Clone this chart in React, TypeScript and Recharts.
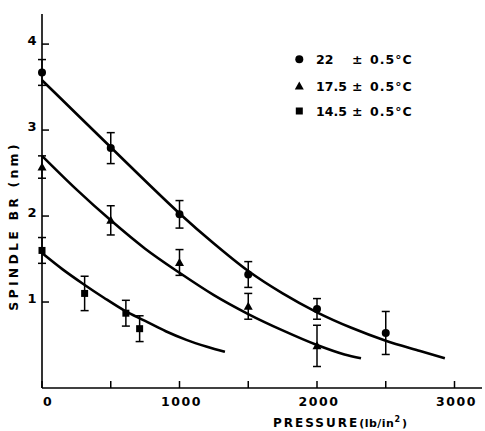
import React from 'react'
import { ComposedChart, Line, Scatter, XAxis, YAxis, ErrorBar, Legend } from 'recharts'

const FONT = '"DejaVu Sans", Verdana, sans-serif'

// fitted curves (pressure lb/in2 -> spindle BR nm)
const fit22P = [0, 250, 500, 750, 1000, 1250, 1500, 1750, 2000, 2250, 2500, 2750, 2930]
const fit22V = [3.58, 3.19, 2.8, 2.41, 2.03, 1.68, 1.36, 1.1, 0.88, 0.7, 0.55, 0.43, 0.345]
const fit17P = [0, 250, 500, 750, 1000, 1250, 1500, 1750, 2000, 2200, 2320]
const fit17V = [2.7, 2.31, 1.95, 1.62, 1.34, 1.08, 0.86, 0.67, 0.5, 0.39, 0.345]
const fit14P = [0, 150, 300, 450, 600, 750, 900, 1050, 1200, 1330]
const fit14V = [1.57, 1.38, 1.21, 1.05, 0.9, 0.78, 0.66, 0.56, 0.48, 0.42]

// measured points with error
const pts22P = [0, 500, 1000, 1500, 2000, 2500]
const pts22V = [3.67, 2.79, 2.02, 1.32, 0.92, 0.64]
const pts22E = [0.15, 0.18, 0.16, 0.15, 0.12, 0.25]
const pts17P = [0, 500, 1000, 1500, 2000]
const pts17V = [2.57, 1.95, 1.46, 0.95, 0.49]
const pts17E = [0.13, 0.17, 0.15, 0.15, 0.24]
const pts14P = [0, 310, 610, 710]
const pts14V = [1.6, 1.1, 0.87, 0.69]
const pts14E = [0.15, 0.2, 0.15, 0.15]

const xTicks = [0, 500, 1000, 1500, 2000, 2500, 3000]
const yTicks = [1, 2, 3, 4]
const legendTemps = ['22', '17.5', '14.5']
const legendTol = '± 0.5°C'

const rows = (p: number[], v: number[], e?: number[]) =>
  p.map((x, i) => ({ p: x, v: v[i], e: e ? e[i] : 0 }))

const Dot = ({ cx, cy }: any) => <circle cx={cx} cy={cy} r={4} fill="#000" />
const Tri = ({ cx, cy }: any) => (
  <polygon points={`${cx},${cy - 4.5} ${cx + 4.5},${cy + 3.5} ${cx - 4.5},${cy + 3.5}`} fill="#000" />
)
const Sq = ({ cx, cy }: any) => <rect x={cx - 3.5} y={cy - 3.5} width={7} height={7} fill="#000" />

const XTick = ({ x, y, payload }: any) => {
  const v = payload.value
  return (
    <g>
      <line x1={x} y1={y} x2={x} y2={y - 7} stroke="#000" strokeWidth={1.5} />
      {v % 1000 === 0 && (
        <text x={x + (v === 0 ? 6 : 2)} y={y + 17.5} textAnchor="middle" fontFamily={FONT}
          fontWeight="bold" fontSize={12.5} letterSpacing={1.5} fill="#000">{v}</text>
      )}
    </g>
  )
}

const YTick = ({ x, y, payload }: any) => (
  <g>
    <line x1={x} y1={y} x2={x + 7} y2={y} stroke="#000" strokeWidth={1.5} />
    <text x={x - 10} y={y + 0.5} textAnchor="middle" fontFamily={FONT}
      fontWeight="bold" fontSize={13} fill="#000">{payload.value}</text>
  </g>
)

const LegendBox = () => {
  const shapes = [<Dot cx={9.3} cy={14.3} />, <Tri cx={9.3} cy={41} />, <Sq cx={9.3} cy={66} />]
  const base = [19, 45.7, 71]
  return (
    <svg width={140} height={80}>
      {legendTemps.map((t, i) => (
        <g key={t}>
          {shapes[i]}
          <text x={26} y={base[i]} fontFamily={FONT} fontWeight="bold" fontSize={12.5} fill="#000">{t}</text>
          <text x={62} y={base[i]} fontFamily={FONT} fontWeight="bold" fontSize={12.5} letterSpacing={1} fill="#000">
            {legendTol.slice(0, 1)}
            <tspan x={80}>{legendTol.slice(2)}</tspan>
          </text>
        </g>
      ))}
    </svg>
  )
}

export default function App() {
  return (
    <div style={{ position: 'absolute', left: 0, top: 0, background: '#fff' }}>
      <ComposedChart width={485} height={431} margin={{ top: 14, right: 3, bottom: 0, left: 0 }}>
        <XAxis
          type="number"
          dataKey="p"
          domain={[0, 3200]}
          ticks={xTicks}
          height={43}
          tickSize={0}
          tickMargin={0}
          tickLine={false}
          axisLine={{ stroke: '#000', strokeWidth: 1.6 }}
          tick={<XTick />}
          interval={0}
          label={() => (
            <text x={341} y={426.5} textAnchor="middle" fontFamily={FONT} fontWeight="bold"
              fontSize={12} letterSpacing={2} fill="#000">
              PRESSURE
              <tspan fontSize={11} letterSpacing={0.5}>(lb/in</tspan>
              <tspan fontSize={8} dy={-5}>2</tspan>
              <tspan fontSize={11} dy={5}>)</tspan>
            </text>
          )}
        />
        <YAxis
          type="number"
          dataKey="v"
          domain={[0, 4.35]}
          ticks={yTicks}
          width={42}
          tickSize={0}
          tickMargin={0}
          tickLine={false}
          axisLine={{ stroke: '#000', strokeWidth: 1.6 }}
          tick={<YTick />}
          interval={0}
          label={() => (
            <text x={18} y={226} transform="rotate(-90 18 226)" textAnchor="middle" fontFamily={FONT}
              fontWeight="bold" fontSize={12.5} letterSpacing={3.2} fill="#000">
              SPINDLE BR (nm)
            </text>
          )}
        />
        <Legend
          layout="vertical"
          align="center"
          verticalAlign="middle"
          content={<LegendBox />}
          wrapperStyle={{ position: 'absolute', left: 290, top: 45, width: 140, height: 80 }}
        />
        <Line data={rows(fit22P, fit22V)} dataKey="v" type="monotone" stroke="#000" strokeWidth={2.6}
          dot={false} activeDot={false} legendType="none" isAnimationActive={false} />
        <Line data={rows(fit17P, fit17V)} dataKey="v" type="monotone" stroke="#000" strokeWidth={2.6}
          dot={false} activeDot={false} legendType="none" isAnimationActive={false} />
        <Line data={rows(fit14P, fit14V)} dataKey="v" type="monotone" stroke="#000" strokeWidth={2.6}
          dot={false} activeDot={false} legendType="none" isAnimationActive={false} />
        <Scatter name="22" data={rows(pts22P, pts22V, pts22E)} dataKey="v" shape={Dot} isAnimationActive={false}>
          <ErrorBar dataKey="e" direction="y" width={4} stroke="#000" strokeWidth={1.5} isAnimationActive={false} />
        </Scatter>
        <Scatter name="17.5" data={rows(pts17P, pts17V, pts17E)} dataKey="v" shape={Tri} isAnimationActive={false}>
          <ErrorBar dataKey="e" direction="y" width={4} stroke="#000" strokeWidth={1.5} isAnimationActive={false} />
        </Scatter>
        <Scatter name="14.5" data={rows(pts14P, pts14V, pts14E)} dataKey="v" shape={Sq} isAnimationActive={false}>
          <ErrorBar dataKey="e" direction="y" width={4} stroke="#000" strokeWidth={1.5} isAnimationActive={false} />
        </Scatter>
      </ComposedChart>
    </div>
  )
}
